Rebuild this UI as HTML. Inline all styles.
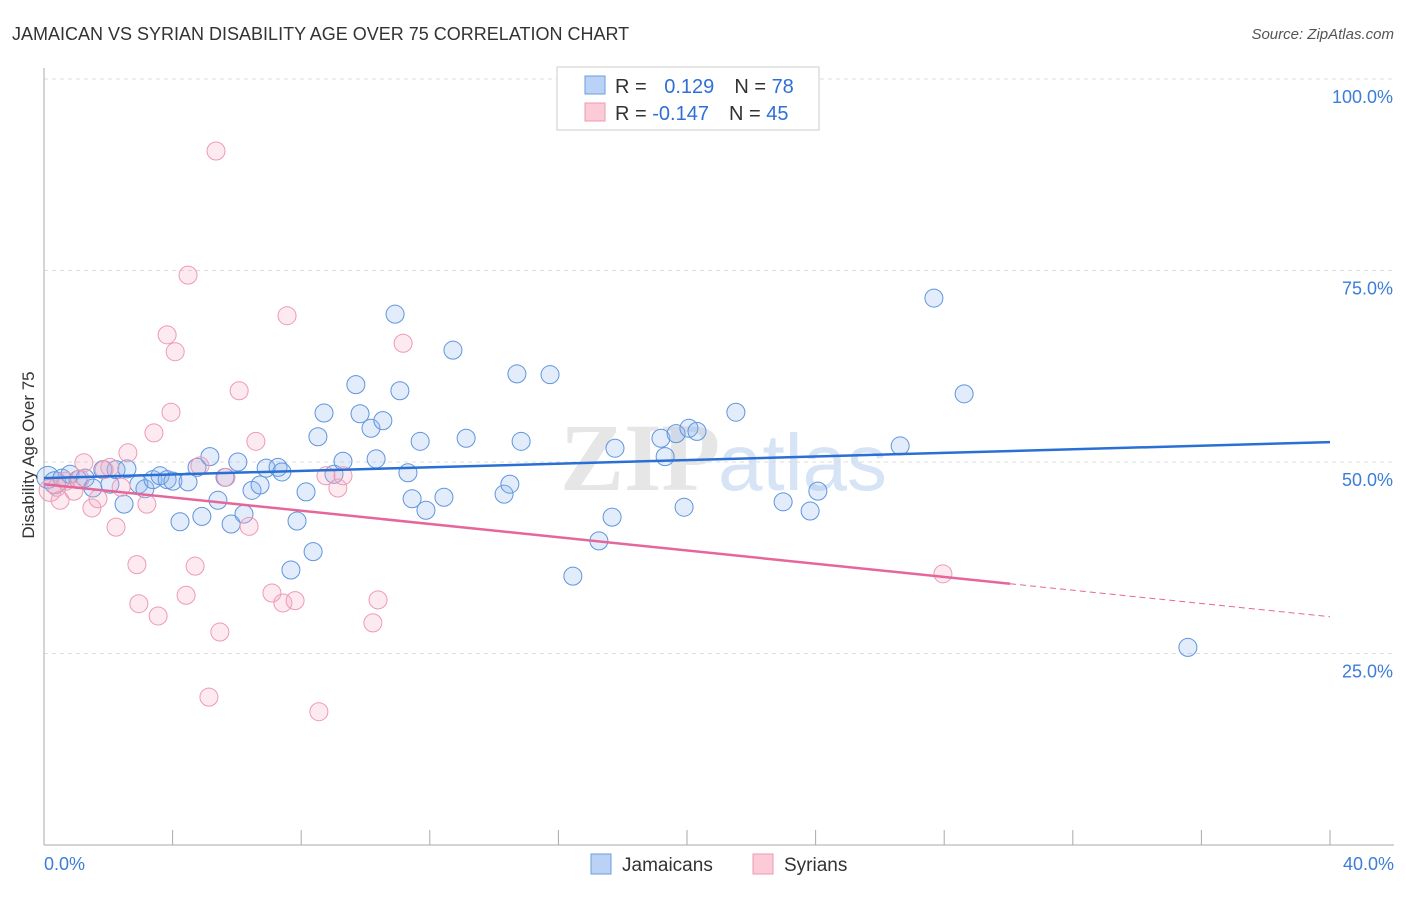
<!DOCTYPE html>
<html><head><meta charset="utf-8"><style>
body{margin:0;background:#fff;font-family:"Liberation Sans",sans-serif;}
</style></head><body>
<svg width="1406" height="892" xmlns="http://www.w3.org/2000/svg" font-family="Liberation Sans, sans-serif">
<text x="12" y="40" font-size="18" fill="#333">JAMAICAN VS SYRIAN DISABILITY AGE OVER 75 CORRELATION CHART</text>
<text x="1394" y="39" font-size="15" fill="#555" font-style="italic" text-anchor="end">Source: ZipAtlas.com</text>
<text x="720" y="490" font-size="96" font-weight="bold" fill="#e6e6e6" text-anchor="end" font-family="Liberation Serif, serif">ZIP</text>
<text x="718" y="490" font-size="80" fill="#d6e4f6">atlas</text>
<g id="grid"></g>
<g id="axes"></g>
<g id="pts"></g>
<g id="trend"></g>
<text x="34" y="455" font-size="17" fill="#333" transform="rotate(-90 34 455)" text-anchor="middle">Disability Age Over 75</text>
<g>
<rect x="557" y="67" width="262" height="63" fill="#fff" stroke="#ccc"/>
<rect x="585" y="76" width="20" height="18" fill="#b9d2f5" stroke="#6b9de0"/>
<rect x="585" y="103" width="20" height="18" fill="#fbcbd8" stroke="#ee9ab3"/>
<text x="615" y="93" font-size="20" fill="#333">R = <tspan fill="#2f6fd6" dx="12">0.129</tspan><tspan dx="20" fill="#333">N = </tspan><tspan fill="#2f6fd6">78</tspan></text>
<text x="615" y="120" font-size="20" fill="#333">R = <tspan fill="#2f6fd6">-0.147</tspan><tspan dx="20" fill="#333">N = </tspan><tspan fill="#2f6fd6">45</tspan></text>
</g>
<g>
<rect x="591" y="854" width="20" height="20" fill="#b9d2f5" stroke="#6b9de0"/>
<text x="622" y="871" font-size="19" fill="#333">Jamaicans</text>
<rect x="753" y="854" width="20" height="20" fill="#fbcbd8" stroke="#ee9ab3"/>
<text x="784" y="871" font-size="19" fill="#333">Syrians</text>
</g>
</svg>
<script>
const jamX=[0.12,0.34,0.56,0.81,1.06,1.28,1.52,1.83,2.05,2.24,2.49,2.58,2.95,3.14,3.39,3.61,3.83,4.01,4.23,4.48,4.76,4.91,5.16,5.41,5.63,5.82,6.03,6.22,6.47,6.72,6.91,7.28,7.40,7.68,7.87,8.15,8.37,8.52,8.71,9.02,9.30,9.70,9.83,10.17,10.33,10.54,10.92,11.07,11.32,11.45,11.70,11.88,12.44,12.72,13.13,14.31,14.49,14.71,14.84,15.74,16.45,17.26,17.67,17.76,19.19,19.32,19.66,19.91,20.06,20.31,21.52,22.99,23.83,24.07,26.63,27.68,28.62,35.58];
const jamY=[48.0,47.3,47.9,48.4,47.7,47.9,46.6,49.0,47.1,49.0,44.5,49.1,47.1,46.5,47.7,48.2,47.7,47.5,42.2,47.4,49.3,42.9,50.7,45.0,48.0,41.9,50.0,43.2,46.3,47.0,49.2,49.3,48.7,35.9,42.3,46.1,38.3,53.3,56.4,48.4,50.1,60.1,56.3,54.4,50.4,55.4,69.3,59.3,48.6,45.2,52.7,43.7,45.4,64.6,53.1,45.8,47.1,61.5,52.7,61.4,35.1,39.7,42.8,51.8,53.1,50.7,53.7,44.1,54.4,54.0,56.5,44.8,43.6,46.2,52.1,71.4,58.9,25.8];
const syrX=[0.19,0.40,0.50,0.68,0.93,1.12,1.49,1.68,1.87,2.05,2.24,2.40,2.61,2.89,2.95,3.20,3.42,3.55,3.83,3.95,4.08,4.42,4.48,4.70,4.85,5.13,5.35,5.47,5.66,6.07,6.38,6.59,7.09,7.43,7.56,7.81,8.55,8.77,9.14,9.30,10.23,10.39,11.17,27.96,1.24];
const syrY=[46.3,46.7,45.0,47.5,46.2,47.8,44.0,45.2,49.0,49.3,41.5,46.7,51.2,36.6,31.5,44.5,53.8,29.9,66.6,56.5,64.4,32.6,74.4,36.4,49.5,19.3,90.6,27.8,48.0,59.3,41.6,52.7,32.9,31.6,69.1,31.9,17.4,48.2,46.6,48.2,29.0,32.0,65.5,35.4,49.9];
const jamTrend=[47.9,52.6];
const syrTrend=[47.1,29.8];
const syrSolidEnd=30.05;
const yTicks=[25,50,75,100];
const xTickLabels=["0.0%","40.0%"];
const NS="http://www.w3.org/2000/svg";
const X=v=>44+v/40*1286, Y=v=>845-v/100*766;
function mk(t,a,p){const e=document.createElementNS(NS,t);for(const k in a)e.setAttribute(k,a[k]);document.getElementById(p).appendChild(e);return e;}
yTicks.forEach(t=>{
 const l=mk('line',{x1:44,x2:1394,y1:Y(t),y2:Y(t),stroke:'#ddd','stroke-dasharray':'4,4'},'grid');
 
 
 const tx=mk('text',{x:1393,y:Y(t)+24,'font-size':18,fill:'#3b7dd8','text-anchor':'end'},'grid');
 tx.textContent=t.toFixed(1)+'%';
 
 
});
mk('line',{x1:44,x2:44,y1:68,y2:845,stroke:'#aaa'},'axes');
mk('line',{x1:44,x2:1394,y1:845,y2:845,stroke:'#aaa'},'axes');
for(let i=0;i<=10;i++){mk('line',{x1:X(i*4),x2:X(i*4),y1:830,y2:845,stroke:'#aaa'},'axes');}
[[0,'start',44],[1,'end',1394]].forEach(([i,a,x])=>{
 const t=mk('text',{x:x,y:870,'font-size':18,fill:'#3b7dd8','text-anchor':a},'axes');
 t.textContent=xTickLabels[i];
 
 
});
jamX.forEach((v,i)=>{
 const c=mk('circle',{cx:X(v),cy:Y(jamY[i]),r:i<2?11:9,fill:'rgba(140,180,235,0.25)',stroke:'#5f95de','stroke-width':1},'pts');
 
 
});
syrX.forEach((v,i)=>{
 const c=mk('circle',{cx:X(v),cy:Y(syrY[i]),r:i<1?11:9,fill:'rgba(245,170,195,0.25)',stroke:'#ee9ab3','stroke-width':1},'pts');
 
 
});
const jt=mk('line',{x1:X(0),y1:Y(jamTrend[0]),x2:X(40),y2:Y(jamTrend[1]),stroke:'#2a6fd4','stroke-width':2.5},'trend');


const sy=x=>syrTrend[0]+(syrTrend[1]-syrTrend[0])*x/40;
const st=mk('line',{x1:X(0),y1:Y(sy(0)),x2:X(syrSolidEnd),y2:Y(sy(syrSolidEnd)),stroke:'#e5679a','stroke-width':2.5},'trend');


const sd=mk('line',{x1:X(syrSolidEnd),y1:Y(sy(syrSolidEnd)),x2:X(40),y2:Y(sy(40)),stroke:'#e5679a','stroke-width':1,'stroke-dasharray':'6,4'},'trend');


</script>
</body></html>
